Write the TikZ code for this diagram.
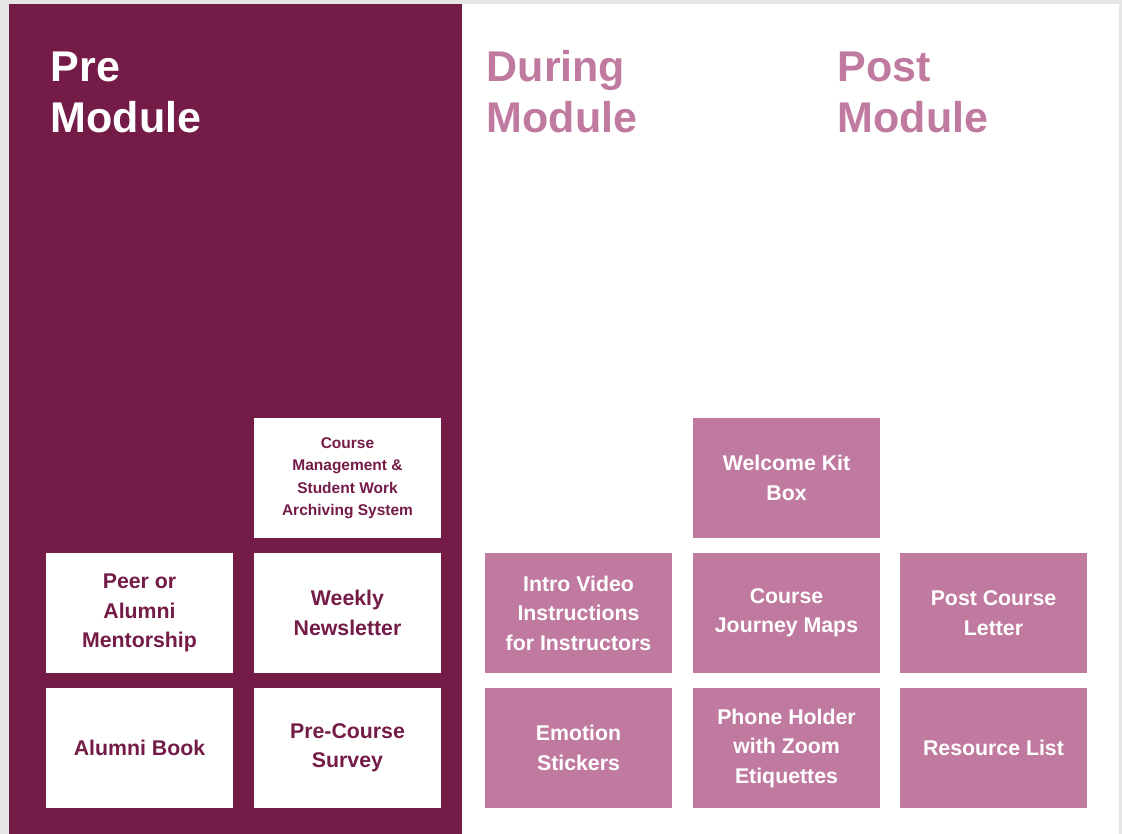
\documentclass[tikz,border=0pt]{standalone}
\usepackage{fontspec}
\setmainfont{Liberation Sans}
\definecolor{plum}{HTML}{741C47}
\definecolor{orchid}{HTML}{C17A9F}
\definecolor{frame}{HTML}{E6E6E6}
\begin{document}
\begin{tikzpicture}[x=1pt,y=-1pt,
  heading/.style={anchor=base west,inner sep=0pt,align=left,
    font=\fontsize{43}{51}\selectfont\bfseries},
  card/.style={minimum width=187pt,minimum height=120pt,inner sep=0pt,
    align=center,font=\fontsize{21.3}{29.5}\selectfont\bfseries},
  precard/.style={card,fill=white,text=plum},
  duringcard/.style={card,fill=orchid,text=white},
  small/.style={font=\fontsize{15.5}{22.5}\selectfont\bfseries}]
  % page, grey surround and the pre-module panel
  \fill[frame] (0,0) rectangle (1122,834);
  \fill[white] (9,4) rectangle (1119,834);
  \fill[plum] (9,4) rectangle (462,834);
  \useasboundingbox (0,0) rectangle (1122,834);

  % column headings (anchored on the baseline of the last line)
  \node[heading,text=white]  (pre)    at (50.5,133)  {Pre\\Module};
  \node[heading,text=orchid] (during) at (486.5,133) {During\\Module};
  \node[heading,text=orchid] (post)   at (837.5,133) {Post\\Module};

  % pre-module cards
  \node[precard,small] (cms)    at (347.5,478) {Course\\Management \&\\Student Work\\Archiving System};
  \node[precard] (mentor) at (139.5,613) {Peer or\\Alumni\\Mentorship};
  \node[precard] (news)   at (347.5,613) {Weekly\\Newsletter};
  \node[precard] (book)   at (139.5,748) {Alumni Book};
  \node[precard] (survey) at (347.5,748) {Pre-Course\\Survey};

  % during / post module cards
  \node[duringcard] (kit)     at (786.5,478) {Welcome Kit\\Box};
  \node[duringcard] (video)   at (578.5,613) {Intro Video\\Instructions\\for Instructors};
  \node[duringcard] (journey) at (786.5,613) {Course\\Journey Maps};
  \node[duringcard] (letter)  at (993.5,613) {Post Course\\Letter};
  \node[duringcard] (sticker) at (578.5,748) {Emotion\\Stickers};
  \node[duringcard] (phone)   at (786.5,748) {Phone Holder\\with Zoom\\Etiquettes};
  \node[duringcard] (res)     at (993.5,748) {Resource List};
\end{tikzpicture}
\end{document}
